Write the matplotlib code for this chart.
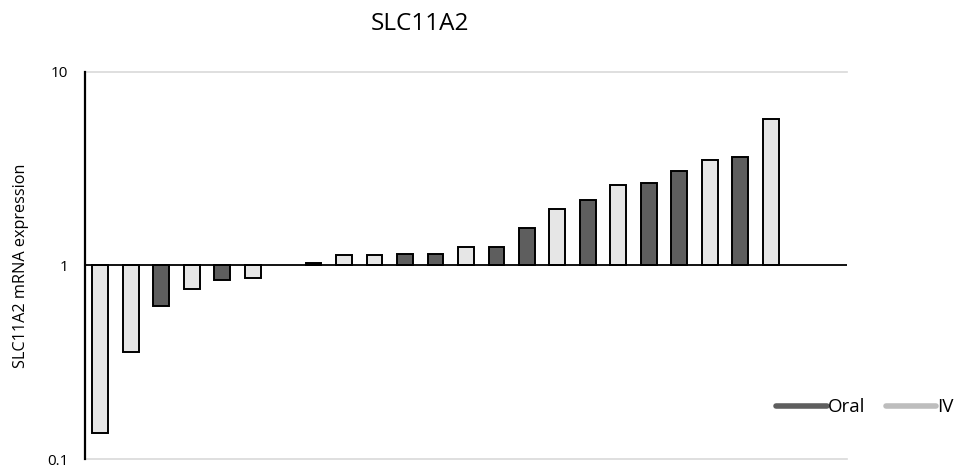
import numpy as np
import matplotlib.pyplot as plt
from matplotlib.lines import Line2D

plt.rcParams['font.family'] = ['Open Sans', 'DejaVu Sans']

# relative expression per patient, sorted; None = no sample
values = [0.136, 0.358, 0.616, 0.752, 0.839, 0.857, None,
          1.03, 1.13, 1.13, 1.15, 1.15, 1.25, 1.25, 1.57, 1.96,
          2.19, 2.60, 2.66, 3.07, 3.50, 3.62, 5.69]
groups = ['IV', 'IV', 'Oral', 'IV', 'Oral', 'IV', None,
          'Oral', 'IV', 'IV', 'Oral', 'Oral', 'IV', 'Oral', 'Oral', 'IV',
          'Oral', 'IV', 'Oral', 'Oral', 'IV', 'Oral', 'IV']
n_slots = 25

fill = {'Oral': '#5e5e5e', 'IV': '#e6e6e6'}
legend_col = {'Oral': '#5e5e5e', 'IV': '#bdbdbd'}

fig = plt.figure(figsize=(9.59, 4.68), dpi=100)
ax = fig.add_axes([0.0886, 0.0192, 0.7946, 0.827])

for i, (v, g) in enumerate(zip(values, groups)):
    if v is None:
        continue
    ax.bar(i, v - 1, bottom=1, width=0.52, color=fill[g],
           edgecolor='black', linewidth=1.4, zorder=3)

ax.set_yscale('log')
ax.set_ylim(0.1, 10)
ax.set_xlim(-0.5, n_slots - 0.5)
ax.set_yticks([0.1, 1, 10])
ax.set_yticklabels(['0.1', '1', '10'])
ax.yaxis.set_minor_locator(plt.NullLocator())
ax.tick_params(axis='y', length=0, labelsize=11, pad=12)
ax.set_xticks([])

for y in (0.1, 10):
    ax.axhline(y, color='#d9d9d9', lw=1.2, zorder=1, clip_on=False)
ax.axhline(1, color='black', lw=1.3, zorder=4)

for s in ('top', 'right', 'bottom'):
    ax.spines[s].set_visible(False)
ax.spines['left'].set_linewidth(1.6)

ax.set_ylabel('SLC11A2 mRNA expression', fontsize=11.7, labelpad=13)
fig.suptitle('SLC11A2', x=0.438, y=0.975, fontsize=17.5)

handles = [Line2D([0], [0], color=legend_col[k], lw=4, solid_capstyle='round')
           for k in ('Oral', 'IV')]
fig.legend(handles, ['Oral', 'IV'], loc='center right',
           bbox_to_anchor=(1.012, 0.13), ncol=2, frameon=False,
           fontsize=13.5, handlelength=2.7, handletextpad=0.05,
           columnspacing=1.1)

fig.savefig('out.png', dpi=100)
